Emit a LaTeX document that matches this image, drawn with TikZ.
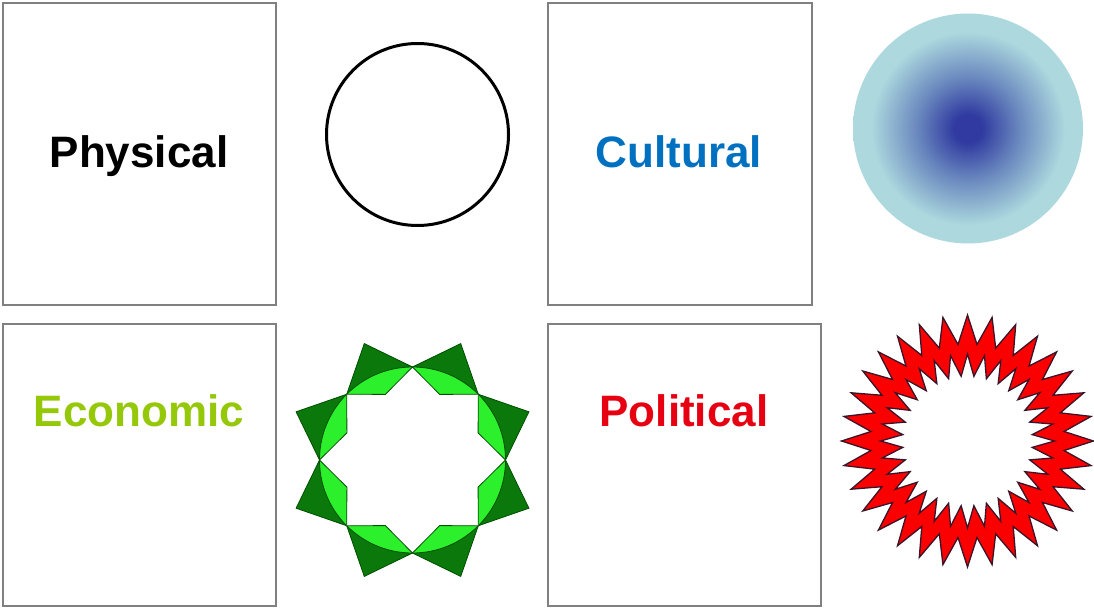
\documentclass[tikz,border=0pt]{standalone}
\usepackage{fontspec}
\setmainfont{Liberation Sans}
\definecolor{boxgray}{RGB}{128,128,128}
\definecolor{cultblue}{RGB}{0,112,192}
\definecolor{econgreen}{RGB}{150,200,10}
\definecolor{polred}{RGB}{230,0,18}
\definecolor{cdark}{RGB}{48,58,160}
\definecolor{cmid}{RGB}{105,135,190}
\definecolor{clight}{RGB}{172,216,222}
\definecolor{dkgreen}{RGB}{10,120,10}
\definecolor{ltgreen}{RGB}{45,240,45}
\definecolor{lineg}{RGB}{0,80,0}
\definecolor{starred}{RGB}{250,0,0}
\definecolor{starline}{RGB}{60,20,40}
\pgfdeclareradialshading{bluesh}{\pgfpointorigin}{color(0bp)=(cdark); color(3bp)=(cdark); color(11bp)=(cmid); color(21bp)=(clight); color(50bp)=(clight)}
\tikzset{
  panel/.style={draw=boxgray, line width=2pt, fill=white, inner sep=0pt, outer sep=0pt},
  label/.style={font=\fontsize{44}{50}\selectfont\bfseries, inner sep=0pt, anchor=base},
}
\begin{document}
\begin{tikzpicture}[x=1pt,y=-1pt]
\useasboundingbox (0,0) rectangle (1094,609);
% panels
\node[panel, minimum width=272.7pt, minimum height=302.3pt] (pbox) at (139.7,153.9) {};
\node[panel, minimum width=264pt, minimum height=302.3pt] (cbox) at (680,153.9) {};
\node[panel, minimum width=272.7pt, minimum height=282pt] (ebox) at (139.7,465) {};
\node[panel, minimum width=273pt, minimum height=282pt] (polbox) at (684.5,465) {};
% labels
\node[label, text=black] (ptext) at (139,168) {Physical};
\node[label, text=cultblue] (ctext) at (679,167.5) {Cultural};
\node[label, text=econgreen] (etext) at (139,426) {Economic};
\node[label, text=polred] (poltext) at (684,426) {Political};
% physical: black circle
\node[draw=black, line width=3pt, circle, minimum size=182pt, inner sep=0pt] (ring) at (417.5,134.5) {};
% cultural: shaded circle
\node[circle, minimum size=230pt, inner sep=0pt, shading=bluesh] (ball) at (968,128.5) {};
% economic: green star
\begin{scope}[shift={(412.5,460)}]
  \filldraw[fill=dkgreen, draw=lineg, line width=0.8pt] (0:93)
    \foreach \a in {0,45,...,315} { -- ({\a+22.5}:126) -- ({\a+45}:93) } -- cycle;
  \filldraw[fill=ltgreen, draw=lineg, line width=0.8pt] (0,0) circle[radius=93];
  \filldraw[fill=white, draw=lineg, line width=0.8pt] (0:93)
    \foreach \a in {0,45,...,315} { -- ({\a+22.5}:71) -- ({\a+45}:93) } -- cycle;
\end{scope}
% political: red zigzag ring
\begin{scope}[shift={(967.5,441)}]
  \filldraw[fill=starred, draw=starline, line width=1.3pt, line join=miter] (0:126)
    \foreach \a in {0,11.25,...,348.75} { -- ({\a+5.625}:97) -- ({\a+11.25}:126) } -- cycle;
  \filldraw[fill=white, draw=starline, line width=1.3pt] (0:87)
    \foreach \a in {0,11.25,...,348.75} { -- ({\a+5.625}:65) -- ({\a+11.25}:87) } -- cycle;
\end{scope}
\end{tikzpicture}
\end{document}
